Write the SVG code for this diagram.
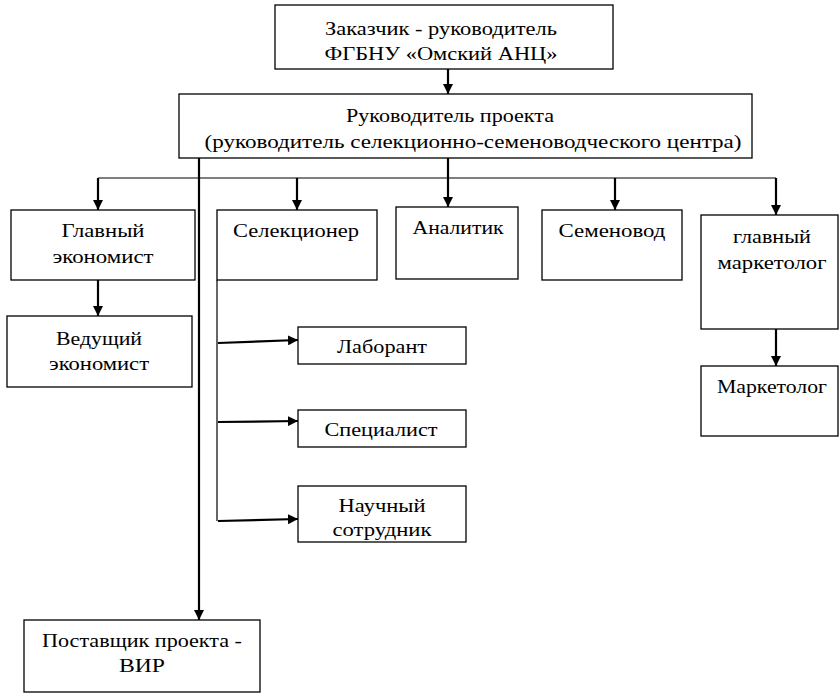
<svg xmlns="http://www.w3.org/2000/svg" width="839" height="693" viewBox="0 0 839 693">
<style>
.box{fill:#fff;stroke:#000;stroke-width:1.3}
text{font-family:"Liberation Serif","Times New Roman",serif;font-size:19px;fill:#000;text-anchor:middle}
.th{stroke:#000;stroke-width:2.2;fill:none}
.tn{stroke:#000;stroke-width:1.2;fill:none}
</style>
<defs>
<marker id="ah" viewBox="0 0 10 10" refX="10" refY="5" markerWidth="10" markerHeight="10" markerUnits="userSpaceOnUse" orient="auto">
<path d="M0,0 L10,5 L0,10 Z" fill="#000"/>
</marker>
</defs>
<g id="connectors">
<line class="th" x1="448" y1="69" x2="448" y2="94" marker-end="url(#ah)"/>
<line class="tn" x1="98" y1="178" x2="776" y2="178"/>
<line class="th" x1="448" y1="158" x2="448" y2="207" marker-end="url(#ah)"/>
<line class="th" x1="98" y1="178" x2="98" y2="210" marker-end="url(#ah)"/>
<line class="th" x1="297" y1="178" x2="297" y2="210" marker-end="url(#ah)"/>
<line class="th" x1="615" y1="178" x2="615" y2="210" marker-end="url(#ah)"/>
<line class="th" x1="776" y1="178" x2="776" y2="215" marker-end="url(#ah)"/>
<line class="th" x1="98" y1="280" x2="98" y2="316" marker-end="url(#ah)"/>
<line class="th" x1="776" y1="329" x2="776" y2="366" marker-end="url(#ah)"/>
<line class="th" x1="199" y1="158" x2="199" y2="620" marker-end="url(#ah)"/>
<line class="tn" x1="217" y1="280" x2="217" y2="521"/>
<line class="th" x1="218" y1="343" x2="298" y2="340" marker-end="url(#ah)"/>
<line class="th" x1="218" y1="422" x2="298" y2="421" marker-end="url(#ah)"/>
<line class="th" x1="218" y1="521" x2="298" y2="519" marker-end="url(#ah)"/>
</g>
<g id="n_zakazchik"><rect class="box" x="275" y="5" width="338" height="64"/><text x="441" y="35" textLength="232" lengthAdjust="spacingAndGlyphs">Заказчик - руководитель</text><text x="441" y="60" textLength="233" lengthAdjust="spacingAndGlyphs">ФГБНУ «Омский АНЦ»</text></g>
<g id="n_rukovoditel"><rect class="box" x="179" y="94" width="573" height="64"/><text x="450" y="122" textLength="208" lengthAdjust="spacingAndGlyphs">Руководитель проекта</text><text x="473" y="148" textLength="537" lengthAdjust="spacingAndGlyphs">(руководитель селекционно-семеноводческого центра)</text></g>
<g id="n_gl_ekonomist"><rect class="box" x="11" y="210" width="184" height="70"/><text x="103" y="237" textLength="83" lengthAdjust="spacingAndGlyphs">Главный</text><text x="103" y="263" textLength="101" lengthAdjust="spacingAndGlyphs">экономист</text></g>
<g id="n_ved_ekonomist"><rect class="box" x="7" y="316" width="185" height="71"/><text x="99" y="345" textLength="86" lengthAdjust="spacingAndGlyphs">Ведущий</text><text x="99" y="370" textLength="100" lengthAdjust="spacingAndGlyphs">экономист</text></g>
<g id="n_selekcioner"><rect class="box" x="217" y="210" width="160" height="70"/><text x="296" y="237" textLength="126" lengthAdjust="spacingAndGlyphs">Селекционер</text></g>
<g id="n_analitik"><rect class="box" x="396" y="207" width="122" height="72"/><text x="458" y="234" textLength="91" lengthAdjust="spacingAndGlyphs">Аналитик</text></g>
<g id="n_semenovod"><rect class="box" x="542" y="210" width="140" height="70"/><text x="612" y="237" textLength="107" lengthAdjust="spacingAndGlyphs">Семеновод</text></g>
<g id="n_gl_marketolog"><rect class="box" x="701" y="215" width="137" height="114"/><text x="772" y="243" textLength="78" lengthAdjust="spacingAndGlyphs">главный</text><text x="772" y="269" textLength="109" lengthAdjust="spacingAndGlyphs">маркетолог</text></g>
<g id="n_marketolog"><rect class="box" x="701" y="366" width="137" height="70"/><text x="772" y="393" textLength="110" lengthAdjust="spacingAndGlyphs">Маркетолог</text></g>
<g id="n_laborant"><rect class="box" x="298" y="327" width="168" height="37"/><text x="382" y="353" textLength="90" lengthAdjust="spacingAndGlyphs">Лаборант</text></g>
<g id="n_specialist"><rect class="box" x="298" y="410" width="168" height="37"/><text x="381" y="436" textLength="113" lengthAdjust="spacingAndGlyphs">Специалист</text></g>
<g id="n_nauchny"><rect class="box" x="298" y="486" width="168" height="56"/><text x="382" y="512" textLength="87" lengthAdjust="spacingAndGlyphs">Научный</text><text x="382" y="536" textLength="99" lengthAdjust="spacingAndGlyphs">сотрудник</text></g>
<g id="n_postavshik"><rect class="box" x="24" y="620" width="236" height="72"/><text x="142" y="647" textLength="200" lengthAdjust="spacingAndGlyphs">Поставщик проекта -</text><text x="142" y="672" textLength="46" lengthAdjust="spacingAndGlyphs">ВИР</text></g>
</svg>
